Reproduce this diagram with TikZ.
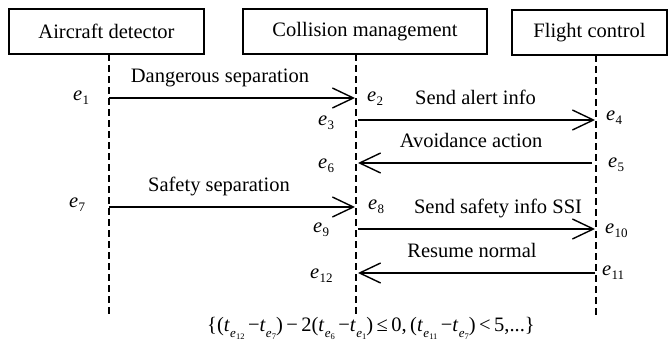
\documentclass[tikz,border=0pt]{standalone}
\usepackage{fontspec}
\setmainfont{Liberation Serif}
\usetikzlibrary{arrows.meta}
\newcommand{\evl}[1]{\textit{e}\kern0.3pt\raisebox{-0.22em}{\fontsize{13}{13}\selectfont #1}}
\newcommand{\tsb}[1]{\textit{t}\kern0.2pt\raisebox{-0.3em}{\fontsize{13}{13}\selectfont\textit{e}\kern0.2pt\raisebox{-0.2em}{\fontsize{8.5}{8.5}\selectfont #1}}}
\begin{document}
\begin{tikzpicture}[x=1pt,y=-1pt,font=\fontsize{20.5}{24}\selectfont,
  box/.style={draw,line width=1.3pt,inner sep=0pt},
  life/.style={line width=1.3pt,dash pattern=on 7pt off 4pt},
  msg/.style={line width=1.4pt,-{Straight Barb[length=21pt,width=20pt,line width=1.4pt]}},
  lbl/.style={anchor=base,inner sep=0pt},
  ev/.style={anchor=mid west,inner sep=0pt}]
\useasboundingbox (0,0) rectangle (669,345);
% participants
\node[box,minimum width=195pt,minimum height=45pt] (ad) at (106.5,31.5) {Aircraft detector};
\node[box,minimum width=244pt,minimum height=45pt] (cm) at (365,31.5) {Collision management};
\node[box,minimum width=155pt,minimum height=45pt] (fc) at (589.5,32.5) {Flight control};
% lifelines
\coordinate (l1t) at (109,54);  \coordinate (l1b) at (109,315);
\coordinate (l2t) at (356,54);  \coordinate (l2b) at (356,315);
\coordinate (l3t) at (596,55);  \coordinate (l3b) at (596,315);
\draw[life] (l1t) -- (l1b);
\draw[life] (l2t) -- (l2b);
\draw[life] (l3t) -- (l3b);
% event points
\coordinate (p1) at (109,98);  \coordinate (p2) at (355,98);
\coordinate (p3) at (358,120); \coordinate (p4) at (595,120);
\coordinate (p5) at (592,163); \coordinate (p6) at (358,163);
\coordinate (p7) at (109,207); \coordinate (p8) at (355,207);
\coordinate (p9) at (358,229); \coordinate (p10) at (595,229);
\coordinate (p11) at (595,273); \coordinate (p12) at (358,273);
% messages
\draw[msg] (p1) -- (p2);
\draw[msg] (p3) -- (p4);
\draw[msg] (p5) -- (p6);
\draw[msg] (p7) -- (p8);
\draw[msg] (p9) -- (p10);
\draw[msg] (p11) -- (p12);
% message labels
\node[lbl] (m1) at (220,82) {Dangerous separation};
\node[lbl] (m2) at (475.5,104) {Send alert info};
\node[lbl] (m3) at (471,147) {Avoidance action};
\node[lbl] (m4) at (219,191) {Safety separation};
\node[lbl] (m5) at (498,213) {Send safety info SSI};
\node[lbl] (m6) at (472,257) {Resume normal};
% event labels
\node[ev] (n1) at (73,98) {\evl{1}};
\node[ev] (n2) at (367,99) {\evl{2}};
\node[ev] (n3) at (318,123) {\evl{3}};
\node[ev] (n4) at (606,118) {\evl{4}};
\node[ev] (n5) at (608,165) {\evl{5}};
\node[ev] (n6) at (318,166) {\evl{6}};
\node[ev] (n7) at (69,205) {\evl{7}};
\node[ev] (n8) at (368,207) {\evl{8}};
\node[ev] (n9) at (313,230) {\evl{9}};
\node[ev] (n10) at (605,231) {\evl{10}};
\node[ev] (n11) at (602,273) {\evl{11}};
\node[ev] (n12) at (310,276) {\evl{12}};
% constraint
\node[lbl] (f) at (371,331) {\{(\tsb{12}\,−\tsb{7})\,−\,2(\tsb{6}\,−\tsb{1})\,≤\,0,\,(\tsb{11}\,−\tsb{7})\,<\,5,...\}};
\end{tikzpicture}
\end{document}
